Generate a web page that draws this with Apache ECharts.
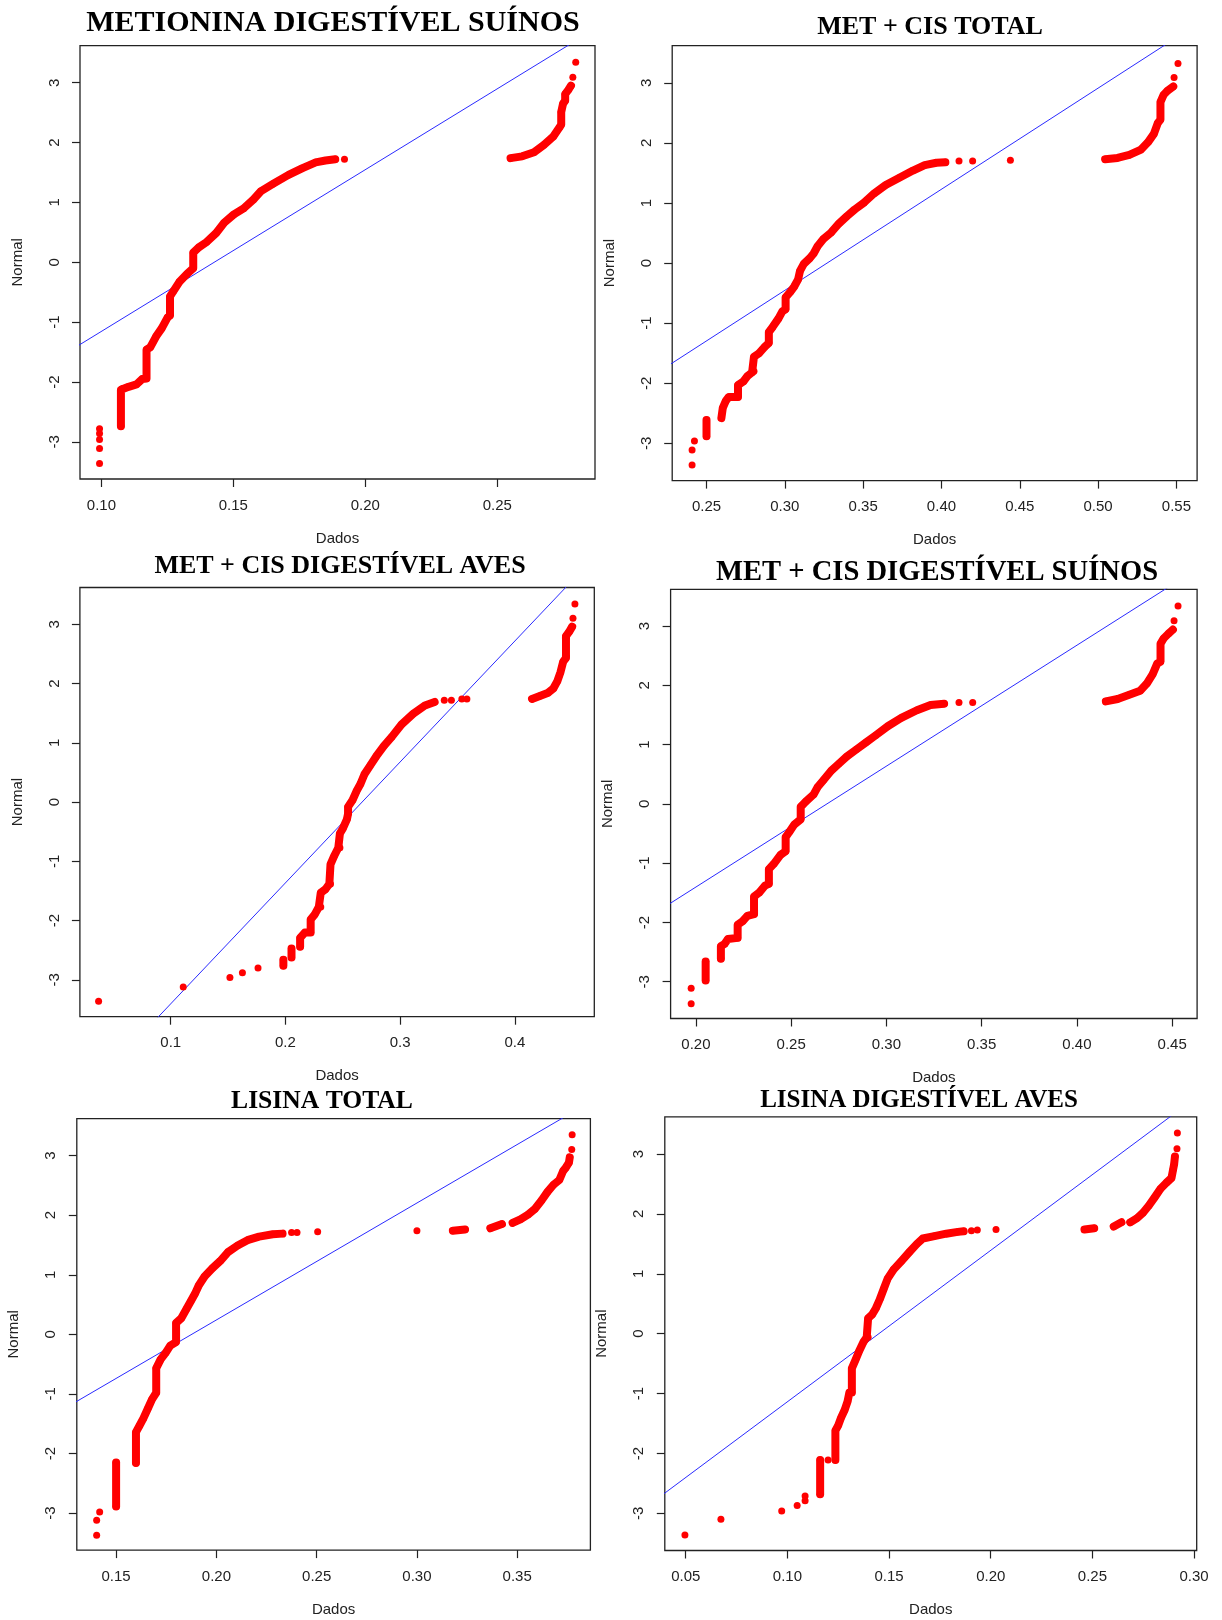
<!DOCTYPE html>
<html>
<head>
<meta charset="utf-8">
<script src="https://cdn.jsdelivr.net/npm/echarts@6/dist/echarts.min.js"></script>
<style>
  html, body { margin: 0; padding: 0; background: #fff; }
  #chart { width: 1222px; height: 1620px; }
</style>
</head>
<body>
<div id="chart"></div>
<script>
// Normal Q-Q plots: x = observed value (Dados), y = theoretical normal quantile (Normal).
// Each panel: dense runs of points ("cadeias"), isolated points ("soltos"),
// the reference line (two points on it) and the x tick labels.

const normalTicks = ['-3', '-2', '-1', '0', '1', '2', '3'];

// --- METIONINA DIGESTÍVEL SUÍNOS ---
const metDigSuinosTicks = ['0.10', '0.15', '0.20', '0.25'];
const metDigSuinosCadeias = [
  [[0.1074,-2.74],[0.1074,-2.13],[0.1081,-2.11],[0.1103,-2.08],[0.1133,-2.04],[0.1155,-1.95],[0.1171,-1.94],[0.1171,-1.46],
   [0.1185,-1.42],[0.1207,-1.24],[0.1229,-1.10],[0.1251,-0.92],[0.1260,-0.89],[0.1260,-0.57],[0.1273,-0.48],[0.1295,-0.33],
   [0.1325,-0.19],[0.1348,-0.10],[0.1348,0.16],[0.1369,0.25],[0.1399,0.34],[0.1435,0.49],[0.1465,0.66],[0.1502,0.80],
   [0.1539,0.90],[0.1576,1.05],[0.1605,1.19],[0.1650,1.31],[0.1709,1.46],[0.1760,1.57],[0.1812,1.67],[0.1849,1.70],[0.1886,1.72]],
  [[0.2550,1.74],[0.2594,1.77],[0.2639,1.84],[0.2676,1.96],[0.2712,2.10],[0.2735,2.25],[0.2742,2.30],[0.2742,2.51],
   [0.2749,2.65],[0.2757,2.70],[0.2757,2.81],[0.2769,2.88],[0.2779,2.95]]
];
const metDigSuinosSoltos = [[0.0993,-3.36],[0.0993,-3.11],[0.0993,-2.96],[0.0993,-2.86],[0.0993,-2.78],[0.1921,1.72],[0.2786,3.09],[0.2797,3.34]];
const metDigSuinosReta = [[0.085,-1.56],[0.29,3.98]];

// --- MET + CIS TOTAL ---
const metCisTotalTicks = ['0.25', '0.30', '0.35', '0.40', '0.45', '0.50', '0.55'];
const metCisTotalCadeias = [
  [[0.2500,-2.88],[0.2500,-2.61]],
  [[0.2595,-2.58],[0.2604,-2.41],[0.2624,-2.29],[0.2642,-2.23],[0.2701,-2.23],[0.2701,-2.03],[0.2736,-1.97],[0.2761,-1.88],
   [0.2791,-1.82],[0.2803,-1.80],[0.2803,-1.56],[0.2836,-1.50],[0.2873,-1.39],[0.2898,-1.33],[0.2898,-1.15],[0.2923,-1.06],
   [0.2960,-0.92],[0.2985,-0.80],[0.3005,-0.77],[0.3005,-0.57],[0.3035,-0.48],[0.3060,-0.39],[0.3085,-0.27],[0.3097,-0.13],
   [0.3122,-0.01],[0.3159,0.08],[0.3184,0.16],[0.3209,0.28],[0.3246,0.40],[0.3296,0.51],[0.3346,0.66],[0.3396,0.78],
   [0.3445,0.89],[0.3507,1.01],[0.3570,1.16],[0.3644,1.30],[0.3731,1.42],[0.3818,1.54],[0.3893,1.63],[0.3968,1.67],[0.4025,1.68]],
  [[0.5045,1.73],[0.5124,1.75],[0.5199,1.80],[0.5274,1.89],[0.5318,2.01],[0.5356,2.15],[0.5381,2.33],[0.5398,2.39],
   [0.5398,2.68],[0.5418,2.80],[0.5443,2.87],[0.5480,2.94]]
];
const metCisTotalSoltos = [[0.2408,-3.36],[0.2408,-3.11],[0.2423,-2.96],[0.4112,1.70],[0.4199,1.70],[0.4440,1.71],[0.5485,3.09],[0.5510,3.32]];
const metCisTotalReta = [[0.22,-1.80],[0.57,4.09]];

// --- MET + CIS DIGESTÍVEL AVES ---
const metCisAvesTicks = ['0.1', '0.2', '0.3', '0.4'];
const metCisAvesCadeias = [
  [[0.1982,-2.76],[0.1982,-2.66]],
  [[0.2053,-2.62],[0.2053,-2.47]],
  [[0.2128,-2.44],[0.2128,-2.29],[0.2169,-2.20],[0.2220,-2.20],[0.2220,-1.98],[0.2257,-1.89],[0.2291,-1.77],[0.2308,-1.77],
   [0.2308,-1.53],[0.2349,-1.47],[0.2383,-1.38],[0.2393,-1.38],[0.2393,-1.05],[0.2427,-0.90],[0.2461,-0.77],[0.2475,-0.77],
   [0.2475,-0.53],[0.2502,-0.44],[0.2536,-0.29],[0.2546,-0.20],[0.2546,-0.08],[0.2587,0.04],[0.2621,0.19],[0.2655,0.31],
   [0.2689,0.47],[0.2740,0.62],[0.2791,0.77],[0.2859,0.95],[0.2927,1.10],[0.3012,1.31],[0.3114,1.49],[0.3216,1.63],[0.3301,1.69]],
  [[0.4150,1.74],[0.4218,1.79],[0.4286,1.84],[0.4337,1.92],[0.4371,2.04],[0.4398,2.19],[0.4422,2.37],[0.4446,2.43],
   [0.4446,2.80],[0.4473,2.87],[0.4500,2.96]]
];
const metCisAvesSoltos = [[0.0371,-3.36],[0.1109,-3.12],[0.1516,-2.96],[0.1625,-2.88],[0.1761,-2.80],[0.3385,1.72],[0.3447,1.72],[0.3538,1.74],[0.3582,1.74],[0.4507,3.10],[0.4524,3.34]];
const metCisAvesReta = [[0.08,-3.81],[0.46,3.94]];

// --- MET + CIS DIGESTÍVEL SUÍNOS ---
const metCisSuinosTicks = ['0.20', '0.25', '0.30', '0.35', '0.40', '0.45'];
const metCisSuinosCadeias = [
  [[0.2051,-2.98],[0.2051,-2.66]],
  [[0.2131,-2.61],[0.2131,-2.40],[0.2151,-2.36],[0.2168,-2.28],[0.2219,-2.26],[0.2219,-2.04],[0.2245,-1.98],[0.2270,-1.89],
   [0.2305,-1.86],[0.2305,-1.56],[0.2331,-1.50],[0.2362,-1.38],[0.2383,-1.35],[0.2383,-1.10],[0.2409,-1.01],[0.2444,-0.86],
   [0.2471,-0.80],[0.2471,-0.56],[0.2491,-0.47],[0.2516,-0.35],[0.2550,-0.26],[0.2550,-0.05],[0.2577,0.04],[0.2618,0.16],
   [0.2638,0.28],[0.2669,0.40],[0.2710,0.56],[0.2751,0.68],[0.2792,0.80],[0.2843,0.92],[0.2894,1.04],[0.2945,1.16],
   [0.3007,1.31],[0.3078,1.45],[0.3160,1.58],[0.3232,1.67],[0.3303,1.69]],
  [[0.4152,1.73],[0.4214,1.77],[0.4275,1.84],[0.4332,1.91],[0.4367,2.03],[0.4398,2.19],[0.4422,2.37],[0.4439,2.40],
   [0.4439,2.70],[0.4455,2.79],[0.4480,2.87],[0.4504,2.94]]
];
const metCisSuinosSoltos = [[0.1975,-3.37],[0.1975,-3.11],[0.3381,1.71],[0.3453,1.71],[0.4510,3.09],[0.4531,3.34]];
const metCisSuinosReta = [[0.18,-1.81],[0.46,3.90]];

// --- LISINA TOTAL ---
const lisinaTotalTicks = ['0.15', '0.20', '0.25', '0.30', '0.35'];
const lisinaTotalCadeias = [
  [[0.1500,-2.89],[0.1500,-2.15]],
  [[0.1599,-2.16],[0.1599,-1.64],[0.1617,-1.53],[0.1636,-1.41],[0.1659,-1.24],[0.1679,-1.09],[0.1700,-0.98],[0.1700,-0.57],
   [0.1722,-0.42],[0.1747,-0.31],[0.1770,-0.19],[0.1799,-0.13],[0.1799,0.19],[0.1825,0.27],[0.1850,0.42],[0.1873,0.56],
   [0.1893,0.68],[0.1912,0.82],[0.1941,0.97],[0.1980,1.11],[0.2019,1.23],[0.2058,1.38],[0.2106,1.49],[0.2155,1.58],
   [0.2213,1.64],[0.2281,1.68],[0.2330,1.69]],
  [[0.3179,1.74],[0.3240,1.76]],
  [[0.3366,1.78],[0.3424,1.85]],
  [[0.3477,1.87],[0.3516,1.93],[0.3554,2.01],[0.3587,2.10],[0.3622,2.25],[0.3651,2.39],[0.3681,2.51],[0.3710,2.59],
   [0.3729,2.74],[0.3743,2.80],[0.3758,2.88],[0.3762,2.97]]
];
const lisinaTotalSoltos = [[0.1403,-3.37],[0.1403,-3.12],[0.1418,-2.98],[0.2375,1.71],[0.2402,1.71],[0.2505,1.72],[0.3000,1.74],[0.3772,3.10],[0.3774,3.35]];
const lisinaTotalReta = [[0.125,-1.23],[0.39,3.97]];

// --- LISINA DIGESTÍVEL AVES ---
const lisinaAvesTicks = ['0.05', '0.10', '0.15', '0.20', '0.25', '0.30'];
const lisinaAvesCadeias = [
  [[0.1161,-2.68],[0.1161,-2.11]],
  [[0.1236,-2.11],[0.1236,-1.62],[0.1250,-1.53],[0.1263,-1.41],[0.1282,-1.27],[0.1296,-1.13],[0.1305,-0.98],[0.1317,-0.98],
   [0.1317,-0.58],[0.1336,-0.43],[0.1353,-0.29],[0.1374,-0.14],[0.1390,-0.06],[0.1397,-0.06],[0.1397,0.26],[0.1417,0.32],
   [0.1436,0.43],[0.1455,0.58],[0.1474,0.75],[0.1493,0.92],[0.1522,1.07],[0.1560,1.21],[0.1599,1.36],[0.1637,1.50],
   [0.1666,1.59],[0.1723,1.63],[0.1781,1.67],[0.1838,1.70],[0.1867,1.71]],
  [[0.2461,1.74],[0.2509,1.76]],
  [[0.2605,1.79],[0.2643,1.86]],
  [[0.2686,1.86],[0.2720,1.93],[0.2749,2.02],[0.2778,2.14],[0.2807,2.28],[0.2835,2.42],[0.2864,2.52],[0.2889,2.60],
   [0.2897,2.74],[0.2902,2.83],[0.2906,2.96]]
];
const lisinaAvesSoltos = [[0.0496,-3.36],[0.0673,-3.10],[0.0972,-2.96],[0.1048,-2.87],[0.1087,-2.79],[0.1087,-2.71],[0.1200,-2.11],[0.1905,1.72],[0.1934,1.73],[0.2026,1.74],[0.2916,3.09],[0.2918,3.35]];
const lisinaAvesReta = [[0.035,-2.78],[0.30,3.92]];

// Panel layout: plot box in pixels, axis limits and title.
const panels = [
  { titulo: 'METIONINA DIGESTÍVEL SUÍNOS', tituloSize: 30, tituloX: 333, tituloY: 23,
    box: [80, 45.6, 515, 433.4], xlim: [0.0919, 0.2870],
    ticks: metDigSuinosTicks, cadeias: metDigSuinosCadeias, soltos: metDigSuinosSoltos, reta: metDigSuinosReta },
  { titulo: 'MET + CIS TOTAL', tituloSize: 26, tituloX: 930, tituloY: 27,
    box: [672.2, 45.6, 524.9, 435], xlim: [0.2281, 0.5632],
    ticks: metCisTotalTicks, cadeias: metCisTotalCadeias, soltos: metCisTotalSoltos, reta: metCisTotalReta },
  { titulo: 'MET + CIS DIGESTÍVEL AVES', tituloSize: 26, tituloX: 340, tituloY: 566,
    box: [79.9, 587.5, 514.4, 429.2], xlim: [0.0208, 0.4693],
    ticks: metCisAvesTicks, cadeias: metCisAvesCadeias, soltos: metCisAvesSoltos, reta: metCisAvesReta },
  { titulo: 'MET + CIS DIGESTÍVEL SUÍNOS', tituloSize: 28.6, tituloX: 937, tituloY: 573,
    box: [670.6, 589.3, 526.5, 429.2], xlim: [0.1867, 0.4631],
    ticks: metCisSuinosTicks, cadeias: metCisSuinosCadeias, soltos: metCisSuinosSoltos, reta: metCisSuinosReta },
  { titulo: 'LISINA TOTAL', tituloSize: 25.6, tituloX: 322, tituloY: 1101,
    box: [76.8, 1118.6, 513.6, 431.5], xlim: [0.1304, 0.3865],
    ticks: lisinaTotalTicks, cadeias: lisinaTotalCadeias, soltos: lisinaTotalSoltos, reta: lisinaTotalReta },
  { titulo: 'LISINA DIGESTÍVEL AVES', tituloSize: 25, tituloX: 919, tituloY: 1101,
    box: [664.8, 1116.9, 531.9, 433.6], xlim: [0.0397, 0.3013],
    ticks: lisinaAvesTicks, cadeias: lisinaAvesCadeias, soltos: lisinaAvesSoltos, reta: lisinaAvesReta }
];

const SANS = "'Liberation Sans', Arial, sans-serif";
const SERIF = "'Liberation Serif', 'Times New Roman', serif";
const INK = '#222';
const RED = '#ff0000';

const option = {
  animation: false,
  backgroundColor: '#ffffff',
  grid: [], xAxis: [], yAxis: [], series: [], graphic: []
};

function labelFrom(list) {
  const values = list.map(Number);
  return function (v) {
    for (let k = 0; k < values.length; k++) {
      if (Math.abs(values[k] - v) < 1e-9) return list[k];
    }
    return '';
  };
}

panels.forEach(function (p, i) {
  option.grid.push({
    left: p.box[0], top: p.box[1], width: p.box[2], height: p.box[3],
    show: true, borderColor: INK, borderWidth: 1.3, backgroundColor: 'transparent'
  });

  const xVals = p.ticks.map(Number);
  option.xAxis.push({
    gridIndex: i, type: 'value', min: p.xlim[0], max: p.xlim[1],
    axisLine: { show: false, onZero: false },
    axisTick: { show: true, length: 8, customValues: xVals, lineStyle: { color: INK, width: 1.2 } },
    axisLabel: { show: true, customValues: xVals, formatter: labelFrom(p.ticks), margin: 19,
                 fontSize: 15, color: INK, fontFamily: SANS },
    splitLine: { show: false },
    name: 'Dados', nameLocation: 'middle', nameGap: 52,
    nameTextStyle: { fontSize: 15, color: INK, fontFamily: SANS }
  });

  const yVals = normalTicks.map(Number);
  option.yAxis.push({
    gridIndex: i, type: 'value', min: -3.62, max: 3.62,
    axisLine: { show: false, onZero: false },
    axisTick: { show: true, length: 8, customValues: yVals, lineStyle: { color: INK, width: 1.2 } },
    axisLabel: { show: true, customValues: yVals, formatter: labelFrom(normalTicks), rotate: 90, margin: 18,
                 fontSize: 15, color: INK, fontFamily: SANS },
    splitLine: { show: false },
    name: 'Normal', nameLocation: 'middle', nameGap: 55, nameRotate: 90,
    nameTextStyle: { fontSize: 15, color: INK, fontFamily: SANS }
  });

  // Reference line
  option.series.push({
    type: 'line', xAxisIndex: i, yAxisIndex: i, data: p.reta, clip: true,
    showSymbol: false, silent: true, z: 3,
    lineStyle: { color: '#2a2aff', width: 1 }
  });

  // Dense runs of observations drawn as a thick band
  p.cadeias.forEach(function (c) {
    option.series.push({
      type: 'line', xAxisIndex: i, yAxisIndex: i, data: c, clip: true,
      showSymbol: false, silent: true, z: 4,
      lineStyle: { color: RED, width: 8, cap: 'round', join: 'round', opacity: 1 }
    });
  });

  // All observations as points
  const pontos = [].concat.apply([], p.cadeias).concat(p.soltos);
  option.series.push({
    type: 'scatter', xAxisIndex: i, yAxisIndex: i, data: pontos, clip: true,
    symbol: 'circle', symbolSize: 7, silent: true, z: 5,
    itemStyle: { color: RED, opacity: 1 }
  });

  option.graphic.push({
    type: 'text', x: p.tituloX, y: p.tituloY, silent: true,
    style: { text: p.titulo, fill: '#000', align: 'center', verticalAlign: 'middle',
             font: 'bold ' + p.tituloSize + 'px ' + SERIF }
  });
});

const chart = echarts.init(document.getElementById('chart'), null, { renderer: 'canvas' });
chart.setOption(option);
</script>
</body>
</html>
